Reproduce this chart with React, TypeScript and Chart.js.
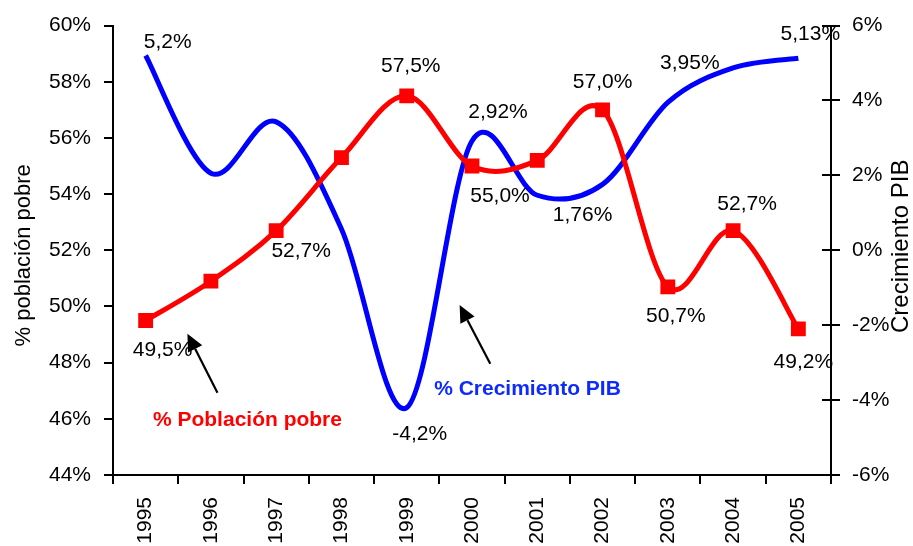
import React, { useEffect, useRef } from 'react';
import { Chart, registerables } from 'chart.js';

Chart.register(...registerables);

// ---- Data ----
const years = ['1995', '1996', '1997', '1998', '1999', '2000', '2001', '2002', '2003', '2004', '2005'];
const poblacionPobre = [49.5, 50.9, 52.7, 55.3, 57.5, 55.0, 55.2, 57.0, 50.7, 52.7, 49.2];
const crecimientoPIB = [5.2, 2.06, 3.43, 0.57, -4.2, 2.92, 1.47, 1.76, 3.95, 4.87, 5.13];

const leftAxisTitle = '% población pobre';
const rightAxisTitle = 'Crecimiento PIB';
const pobreLegend = '% Población pobre';
const pibLegend = '% Crecimiento PIB';

// which points carry a value label (and where, in px relative to the point)
const pobreLabelOffsets: ([number, number] | null)[] = [
  [17, 30], null, [25, 21], null, [4, -30], [28, 30], null, [0, -28], [8, 29], [14, -26], [5, 33],
];
const pibLabelOffsets: ([number, number] | null)[] = [
  [22, -13], null, null, null, [13, 27], [26, -29], null, [-20, 31], [22, -39], null, [12, -24],
];

// annotation anchors in data units (x: category index, y: left-axis %)
const pobreArrow = { from: [1.1, 46.93], to: [0.64, 49.03] };
const pibArrow = { from: [5.28, 47.96], to: [4.81, 50.05] };
const pobreLegendAt = [1.56, 45.94];
const pibLegendAt = [5.85, 47.04];

const FONT = "'Liberation Sans', Arial, Helvetica, sans-serif";
const RED = '#ff0000';
const BLUE = '#0000ff';
const BLUE_TEXT = '#0d2bff';

const excelSmooth = {
  id: 'excelSmooth',
  beforeDatasetDraw(chart: any, args: any) {
    const meta = args.meta;
    const pts = meta.data;
    const n = pts.length;
    for (let i = 0; i < n; i++) {
      const p = pts[i];
      const prev = pts[Math.max(0, i - 1)];
      const next = pts[Math.min(n - 1, i + 1)];
      const dx = (next.x - prev.x) / 6;
      const dy = (next.y - prev.y) / 6;
      p.cp1x = p.x - dx;
      p.cp1y = p.y - dy;
      p.cp2x = p.x + dx;
      p.cp2y = p.y + dy;
    }
    if (meta.dataset) meta.dataset._pointsUpdated = true;
  },
};

const fmtPobre = (v: number) => v.toFixed(1).replace('.', ',') + '%';
const fmtPib = (v: number) => String(v).replace('.', ',') + '%';

function drawArrow(ctx: CanvasRenderingContext2D, x1: number, y1: number, x2: number, y2: number) {
  const ang = Math.atan2(y2 - y1, x2 - x1);
  const head = 17;
  const half = 8;
  const bx = x2 - head * Math.cos(ang);
  const by = y2 - head * Math.sin(ang);
  ctx.save();
  ctx.strokeStyle = '#000';
  ctx.fillStyle = '#000';
  ctx.lineWidth = 2.2;
  ctx.beginPath();
  ctx.moveTo(x1, y1);
  ctx.lineTo(bx, by);
  ctx.stroke();
  ctx.beginPath();
  ctx.moveTo(x2, y2);
  ctx.lineTo(bx + half * Math.sin(ang), by - half * Math.cos(ang));
  ctx.lineTo(bx - half * Math.sin(ang), by + half * Math.cos(ang));
  ctx.closePath();
  ctx.fill();
  ctx.restore();
}

const decorations = {
  id: 'decorations',
  afterDatasetsDraw(chart: any) {
    const ctx: CanvasRenderingContext2D = chart.ctx;
    const xs = chart.scales.x;
    const ys = chart.scales.y;
    const y1 = chart.scales.y1;
    const area = chart.chartArea;

    // inner half of the right-axis ticks (crossing ticks)
    ctx.save();
    ctx.strokeStyle = '#000';
    ctx.lineWidth = 2;
    y1.ticks.forEach((t: any) => {
      const py = Math.round(y1.getPixelForValue(t.value));
      ctx.beginPath();
      ctx.moveTo(area.right - 9, py);
      ctx.lineTo(area.right, py);
      ctx.stroke();
    });
    ctx.restore();

    // value labels
    ctx.save();
    ctx.font = `21px ${FONT}`;
    ctx.fillStyle = '#000';
    ctx.textAlign = 'center';
    ctx.textBaseline = 'middle';
    const m0 = chart.getDatasetMeta(0);
    m0.data.forEach((pt: any, i: number) => {
      const o = pobreLabelOffsets[i];
      if (o) ctx.fillText(fmtPobre(poblacionPobre[i]), pt.x + o[0], pt.y + o[1]);
    });
    const m1 = chart.getDatasetMeta(1);
    m1.data.forEach((pt: any, i: number) => {
      const o = pibLabelOffsets[i];
      if (o) ctx.fillText(fmtPib(crecimientoPIB[i]), pt.x + o[0], pt.y + o[1]);
    });
    ctx.restore();

    // arrows
    const P = (a: number[]) => [xs.getPixelForValue(a[0]), ys.getPixelForValue(a[1])];
    const a1f = P(pobreArrow.from), a1t = P(pobreArrow.to);
    const a2f = P(pibArrow.from), a2t = P(pibArrow.to);
    drawArrow(ctx, a1f[0], a1f[1], a1t[0], a1t[1]);
    drawArrow(ctx, a2f[0], a2f[1], a2t[0], a2t[1]);

    // series annotations
    ctx.save();
    ctx.font = `bold 21px ${FONT}`;
    ctx.textAlign = 'center';
    ctx.textBaseline = 'middle';
    const l1 = P(pobreLegendAt);
    ctx.fillStyle = RED;
    ctx.fillText(pobreLegend, l1[0], l1[1]);
    const l2 = P(pibLegendAt);
    ctx.fillStyle = BLUE_TEXT;
    ctx.fillText(pibLegend, l2[0], l2[1]);
    ctx.restore();

    // axis titles (both reading bottom-to-top)
    const cy = (area.top + area.bottom) / 2;
    ctx.save();
    ctx.font = `22px ${FONT}`;
    ctx.fillStyle = '#000';
    ctx.textAlign = 'center';
    ctx.textBaseline = 'middle';
    ctx.translate(24, cy + 5);
    ctx.rotate(-Math.PI / 2);
    ctx.fillText(leftAxisTitle, 0, 0);
    ctx.restore();
    ctx.save();
    ctx.font = `24px ${FONT}`;
    ctx.fillStyle = '#000';
    ctx.textAlign = 'center';
    ctx.textBaseline = 'middle';
    ctx.translate(901, cy - 4);
    ctx.rotate(-Math.PI / 2);
    ctx.fillText(rightAxisTitle, 0, 0);
    ctx.restore();
  },
};

export default function App() {
  const ref = useRef<HTMLCanvasElement | null>(null);

  useEffect(() => {
    if (!ref.current) return;
    const axisCommon = {
      border: { display: true, color: '#000', width: 2 },
      grid: { drawOnChartArea: false, drawTicks: true, color: '#000', lineWidth: 2, tickLength: 9 },
    };
    const chart = new Chart(ref.current, {
      type: 'line',
      data: {
        labels: years,
        datasets: [
          {
            label: pobreLegend,
            data: poblacionPobre,
            yAxisID: 'y',
            borderColor: RED,
            backgroundColor: RED,
            borderWidth: 5,
            tension: 0.4,
            capBezierPoints: false,
            pointStyle: 'rect',
            pointRadius: 10.5,
            pointBorderWidth: 0,
            pointBackgroundColor: RED,
            fill: false,
            order: 1,
          } as any,
          {
            label: pibLegend,
            data: crecimientoPIB,
            yAxisID: 'y1',
            borderColor: BLUE,
            backgroundColor: BLUE,
            borderWidth: 5,
            tension: 0.4,
            capBezierPoints: false,
            pointRadius: 0,
            fill: false,
            order: 2,
          } as any,
        ],
      },
      options: {
        animation: false,
        responsive: false,
        devicePixelRatio: 1,
        layout: { padding: { top: 25, left: 0, right: 0, bottom: 0 } },
        plugins: { legend: { display: false }, tooltip: { enabled: false } },
        scales: {
          x: {
            type: 'category',
            offset: true,
            ...axisCommon,
            grid: { ...axisCommon.grid, offset: true },
            ticks: {
              color: '#000',
              font: { family: FONT, size: 21 },
              minRotation: 90,
              maxRotation: 90,
              padding: 13,
              autoSkip: false,
            },
            afterFit: (s: any) => { s.height = 71; },
          },
          y: {
            position: 'left',
            min: 44,
            max: 60,
            ...axisCommon,
            ticks: {
              stepSize: 2,
              color: '#000',
              font: { family: FONT, size: 21 },
              padding: 13,
              callback: (v: any) => `${v}%`,
            },
            afterFit: (s: any) => { s.width = 113; },
          },
          y1: {
            position: 'right',
            min: -6,
            max: 6,
            ...axisCommon,
            ticks: {
              stepSize: 2,
              color: '#000',
              font: { family: FONT, size: 21 },
              padding: 12,
              callback: (v: any) => `${v}%`,
            },
            afterFit: (s: any) => { s.width = 82; },
          },
        },
      } as any,
      plugins: [excelSmooth, decorations],
    });
    return () => chart.destroy();
  }, []);

  return (
    <div style={{ position: 'fixed', left: 0, top: 0, width: 913, height: 546, background: '#fff' }}>
      <canvas ref={ref} width={913} height={546} style={{ display: 'block' }} />
    </div>
  );
}
